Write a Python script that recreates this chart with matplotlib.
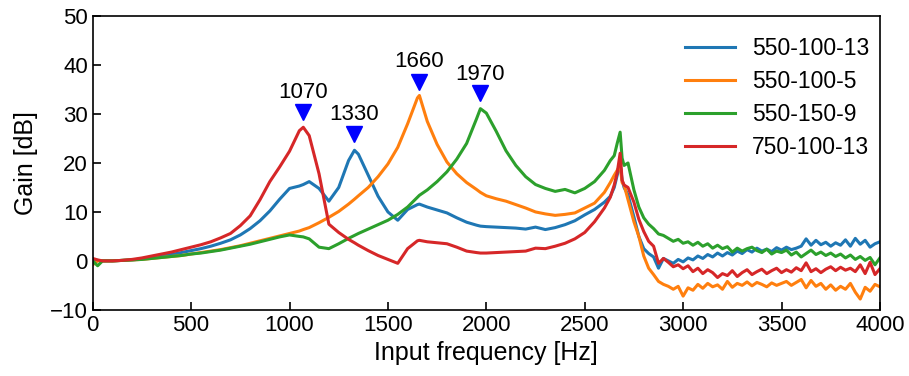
import matplotlib
matplotlib.use('Agg')
import matplotlib.pyplot as plt

plt.rcParams['font.family'] = ['Liberation Sans', 'DejaVu Sans']
plt.rcParams['font.size'] = 16

# sample frequencies [Hz]
freq = [0, 25, 50, 100, 150, 200, 250, 300, 350, 400, 450, 500,
        550, 600, 650, 700, 750, 800, 850, 900, 950, 1000, 1050, 1070,
        1100, 1150, 1200, 1250, 1300, 1330, 1350, 1400, 1450, 1500, 1550, 1600,
        1650, 1660, 1700, 1750, 1800, 1850, 1900, 1950, 1970, 2000, 2050, 2100,
        2150, 2200, 2250, 2300, 2350, 2400, 2450, 2500, 2550, 2600, 2630, 2650,
        2665, 2680, 2690, 2700, 2720, 2750, 2775, 2800, 2825, 2850, 2875, 2900,
        2925, 2950, 2975, 3000, 3025, 3050, 3075, 3100, 3125, 3150, 3175, 3200,
        3225, 3250, 3275, 3300, 3325, 3350, 3375, 3400, 3425, 3450, 3475, 3500,
        3525, 3550, 3575, 3600, 3625, 3650, 3675, 3700, 3725, 3750, 3775, 3800,
        3825, 3850, 3875, 3900, 3925, 3950, 3975, 4000]

gain_550_100_13 = [0.3, 0.1, 0.0, 0.0, 0.1, 0.2, 0.4, 0.7, 1.0, 1.3, 1.7, 2.1,
                   2.5, 3.0, 3.6, 4.3, 5.3, 6.6, 8.2, 10.2, 12.6, 14.8, 15.3, 15.6,
                   16.2, 14.8, 12.2, 15.0, 20.5, 22.6, 21.8, 17.5, 13.2, 10.0, 8.3, 10.5,
                   11.5, 11.6, 11.0, 10.4, 9.8, 8.8, 7.9, 7.3, 7.1, 7.0, 6.9, 6.8,
                   6.7, 6.5, 6.9, 6.4, 6.8, 7.4, 8.2, 9.4, 10.5, 12.0, 13.2, 15.0,
                   17.5, 20.0, 16.5, 15.0, 13.5, 9.0, 5.0, 2.5, 1.5, 0.8, -1.5, 0.5,
                   0.0, -0.5, 0.3, -0.2, 0.6, 0.2, 1.0, 0.5, 1.3, 0.8, 1.6, 1.0,
                   1.7, 1.2, 2.0, 1.5, 2.3, 1.8, 2.6, 2.0, 2.4, 1.9, 2.7, 2.2,
                   2.8, 2.3, 2.6, 3.0, 4.5, 3.2, 4.2, 3.3, 3.8, 3.0, 3.7, 3.2,
                   4.3, 3.0, 4.6, 3.4, 4.2, 2.8, 3.5, 3.9]

gain_550_100_5 = [-0.8, 0.0, 0.0, 0.0, 0.1, 0.2, 0.3, 0.5, 0.7, 0.9, 1.1, 1.4,
                  1.7, 2.0, 2.3, 2.7, 3.1, 3.6, 4.1, 4.6, 5.1, 5.6, 6.1, 6.4,
                  6.8, 7.8, 8.9, 10.1, 11.6, 12.6, 13.3, 15.0, 17.2, 19.8, 23.2, 28.0,
                  33.3, 33.8, 28.5, 23.8, 20.2, 17.8, 16.0, 14.6, 14.0, 13.3, 12.7, 12.2,
                  11.5, 10.8, 10.0, 9.6, 9.3, 9.5, 9.8, 10.8, 11.8, 14.0, 16.0, 17.5,
                  18.5, 19.5, 16.0, 15.5, 12.5, 8.0, 5.0, 1.0, -1.5, -2.8, -4.2, -4.8,
                  -5.2, -5.8, -5.2, -7.2, -5.5, -6.0, -4.8, -5.6, -4.6, -5.3, -4.9, -5.8,
                  -4.2, -5.4, -4.6, -5.0, -4.3, -5.1, -4.4, -4.8, -5.3, -4.5, -5.0, -4.6,
                  -4.2, -5.0, -4.4, -3.8, -5.5, -4.0, -5.2, -4.6, -5.8, -4.9, -6.0, -5.2,
                  -5.8, -4.6, -6.4, -7.8, -5.4, -6.2, -4.8, -5.3]

gain_550_150_9 = [0.0, -1.0, 0.0, 0.0, 0.1, 0.2, 0.3, 0.5, 0.7, 0.9, 1.1, 1.4,
                  1.6, 1.9, 2.2, 2.6, 3.0, 3.4, 3.9, 4.4, 4.9, 5.3, 5.0, 4.9,
                  4.5, 2.8, 2.5, 3.5, 4.6, 5.2, 5.6, 6.5, 7.4, 8.3, 9.5, 11.0,
                  13.0, 13.4, 14.5, 16.2, 18.2, 20.8, 24.0, 29.0, 31.1, 30.2, 26.5, 22.5,
                  19.5, 17.2, 15.6, 14.8, 14.2, 14.6, 13.9, 14.8, 16.2, 18.5, 20.5, 21.5,
                  24.0, 26.3, 21.0, 19.5, 20.0, 14.5, 11.0, 8.8, 7.5, 6.6, 5.5, 5.2,
                  4.6, 4.0, 4.4, 3.6, 3.9, 3.2, 3.8, 3.0, 3.5, 2.6, 3.2, 2.5,
                  2.9, 1.8, 2.6, 2.0, 2.5, 2.8, 2.1, 1.7, 2.4, 1.4, 2.0, 1.7,
                  2.2, 1.2, 1.8, 0.8, 1.5, 2.2, 1.3, 1.8, 1.1, 1.6, 0.9, 1.4,
                  0.6, 1.2, 0.3, 0.9, 0.1, 0.7, -0.8, 0.6]

gain_750_100_13 = [0.5, 0.2, 0.0, 0.0, 0.1, 0.3, 0.6, 1.0, 1.4, 1.8, 2.3, 2.8,
                   3.3, 3.9, 4.7, 5.6, 7.2, 9.2, 12.5, 16.2, 19.2, 22.4, 26.6, 27.3,
                   25.6, 17.8, 7.5, 5.8, 4.4, 3.7, 3.2, 2.1, 1.1, 0.3, -0.5, 2.5,
                   4.1, 4.2, 3.9, 3.7, 3.5, 2.8, 2.0, 1.7, 1.6, 1.6, 1.7, 1.8,
                   1.9, 2.0, 2.6, 2.5, 3.0, 3.6, 4.5, 5.8, 8.0, 10.8, 13.0, 15.5,
                   18.0, 22.0, 16.5, 15.5, 15.0, 12.0, 8.5, 6.0, 4.0, 3.0, -0.5, 0.5,
                   -0.3, -1.2, -0.8, -1.6, -1.0, -2.2, -1.5, -2.6, -1.8, -2.4, -3.4, -2.6,
                   -3.0, -2.0, -3.2, -2.4, -1.8, -2.8, -2.2, -1.7, -2.6, -2.0, -1.5, -2.4,
                   -1.8, -2.3, -1.4, -2.0, -0.4, -2.2, -1.6, -2.4, -1.7, -1.2, -2.0, -1.3,
                   -1.9, -1.5, -2.2, -0.8, -2.6, -0.3, -2.8, -1.6]

series = [('550-100-13', gain_550_100_13),
          ('550-100-5', gain_550_100_5),
          ('550-150-9', gain_550_150_9),
          ('750-100-13', gain_750_100_13)]

# resonance markers: frequency, marker height, label baseline height
peak_freq = [1070, 1330, 1660, 1970]
peak_mark = [30.4, 26.0, 36.5, 34.2]
peak_text = [33.2, 28.8, 39.6, 37.0]

fig = plt.figure(figsize=(9.09, 3.76), dpi=100)
ax = fig.add_subplot(111)
fig.subplots_adjust(left=0.102, right=0.968, bottom=0.176, top=0.957)

for name, g in series:
    ax.plot(freq, g, linewidth=2.2, label=name)

for f, m, t in zip(peak_freq, peak_mark, peak_text):
    ax.plot(f, m, marker='v', color='#0000ff', markersize=11.5, linestyle='none')
    ax.text(f, t, str(f), ha='center', va='baseline', fontsize=16)

ax.set_xlim(0, 4000)
ax.set_ylim(-10, 50)
ax.set_xticks([0, 500, 1000, 1500, 2000, 2500, 3000, 3500, 4000])
ax.set_yticks([-10, 0, 10, 20, 30, 40, 50])
ax.tick_params(direction='in', length=6, width=1.2, labelsize=16)
for sp in ax.spines.values():
    sp.set_linewidth(1.2)

ax.set_xlabel('Input frequency [Hz]', fontsize=18)
ax.set_ylabel('Gain [dB]', fontsize=18)
ax.yaxis.set_label_coords(-0.069, 0.5)
ax.legend(loc='upper right', bbox_to_anchor=(1.013, 1.0), frameon=False,
          fontsize=16.5, handlelength=2.2, handletextpad=0.75, labelspacing=0.44)

plt.savefig('out.png', dpi=100)
